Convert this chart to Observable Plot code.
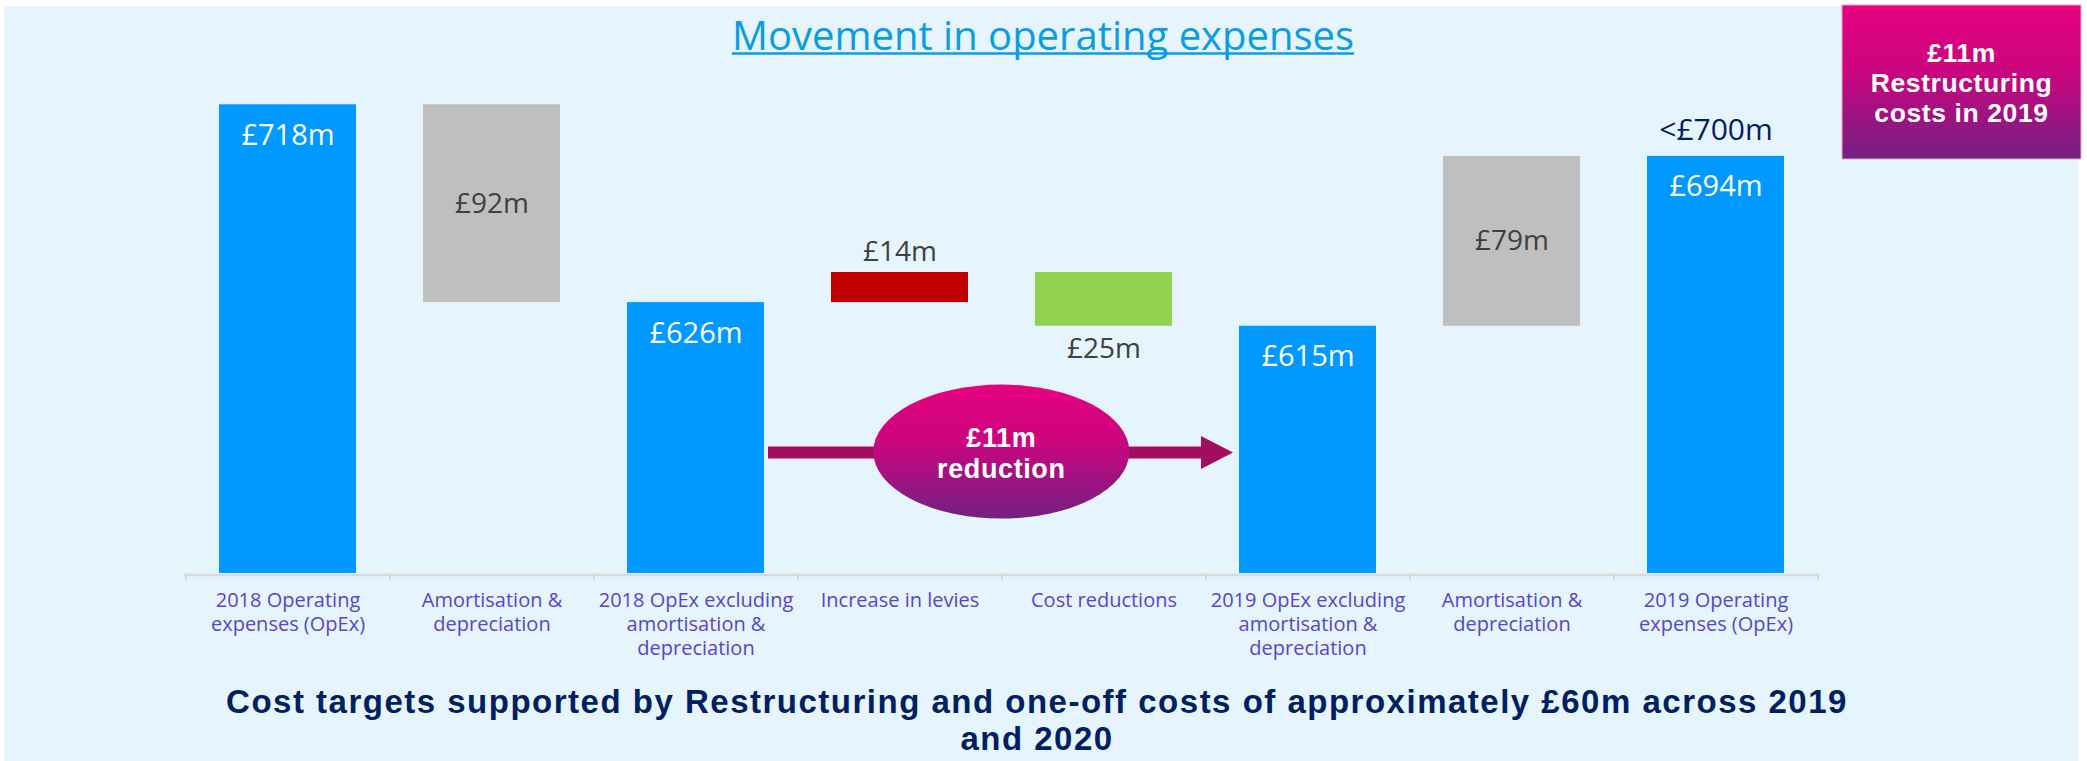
<!DOCTYPE html>
<html>
<head>
<meta charset="utf-8">
<script src="https://cdn.jsdelivr.net/npm/d3@7"></script>
<script src="https://cdn.jsdelivr.net/npm/@observablehq/plot@0.6"></script>
<style>
  body { margin: 0; background: #ffffff; }
  #wrap { position: relative; width: 2087px; height: 761px; overflow: hidden; font-family: "Open Sans", "Noto Sans", sans-serif; }
  #panel { position: absolute; left: 4px; top: 6px; width: 2074px; height: 755px; background: #e6f4fd; }
  #chart { position: absolute; left: 0; top: 0; }
</style>
</head>
<body>
<div id="wrap"><div id="panel"></div><div id="chart"></div></div>
<script>
// ---- data ----
const categories = ["opex2018", "amort2018", "excl2018", "levies", "costred", "excl2019", "amort2019", "opex2019"];
const tickLabels = [
  "2018 Operating\nexpenses (OpEx)",
  "Amortisation &\ndepreciation",
  "2018 OpEx excluding\namortisation &\ndepreciation",
  "Increase in levies",
  "Cost reductions",
  "2019 OpEx excluding\namortisation &\ndepreciation",
  "Amortisation &\ndepreciation",
  "2019 Operating\nexpenses (OpEx)"
];
const kinds = ["total", "step", "total", "step", "step", "total", "step", "total"];
const amounts = [718, -92, 626, 14, -25, 615, 79, 694];
const barLabels = ["£718m", "£92m", "£626m", "£14m", "£25m", "£615m", "£79m", "£694m"];
const barColors = ["#0099ff", "#bfbfbf", "#0099ff", "#c00000", "#92d050", "#0099ff", "#bfbfbf", "#0099ff"];
const axisFloor = 500;
const axisCeil = 720;
const targetLabel = "<£700m";
const arrowLevel = 556;
const titleText = "Movement in operating expenses";
const reductionText = ["£11m", "reduction"];
const restructuringText = ["£11m", "Restructuring", "costs in 2019"];
const footnoteLines = ["Cost targets supported by Restructuring and one-off costs of approximately £60m across 2019", "and 2020"];

// ---- build waterfall rows ----
let running = 0;
const rows = categories.map((cat, i) => {
  let lo, hi;
  if (kinds[i] === "total") {
    running = amounts[i];
    lo = axisFloor; hi = running;
  } else {
    const start = running;
    running += amounts[i];
    lo = Math.min(start, running); hi = Math.max(start, running);
  }
  let pos;
  if (kinds[i] === "total") pos = "inside";
  else if (Math.abs(amounts[i]) > 50) pos = "middle";
  else if (amounts[i] > 0) pos = "above";
  else pos = "below";
  return {cat, lo, hi, label: barLabels[i], color: barColors[i], pos};
});

const W = 2087, H = 761;
const mL = 184, mR = 268, mT = 100, mB = 188;
const padInner = 0.33, padOuter = 0.165;
const xStep = (W - mL - mR) / (categories.length - padInner + 2 * padOuter);
const font = "'Open Sans', 'Noto Sans', sans-serif";
const boldFont = "'Liberation Sans', Arial, sans-serif";

const plot = Plot.plot({
  width: W, height: H,
  marginLeft: mL, marginRight: mR, marginTop: mT, marginBottom: mB,
  style: {background: "transparent", fontFamily: font},
  x: {domain: categories, paddingInner: padInner, paddingOuter: padOuter, label: null},
  y: {domain: [axisFloor, axisCeil], axis: null},
  color: {type: "identity"},
  marks: [
    Plot.ruleY([axisFloor], {stroke: "#d9d9d9", strokeWidth: 2.5, dy: 1.5}),
    Plot.ruleX(categories, {x: d => d, y1: axisFloor, y2: axisFloor, insetBottom: -7, dx: -xStep / 2, stroke: "#d9d9d9", strokeWidth: 2}),
    Plot.ruleX(categories.slice(-1), {x: d => d, y1: axisFloor, y2: axisFloor, insetBottom: -7, dx: xStep / 2, stroke: "#d9d9d9", strokeWidth: 2}),
    Plot.barY(rows, {x: "cat", y1: "lo", y2: "hi", fill: "color"}),
    Plot.text(rows.filter(d => d.pos === "inside"), {x: "cat", y: "hi", text: "label", fill: "#ffffff", fontSize: 29, lineAnchor: "bottom", dy: 40}),
    Plot.text(rows.filter(d => d.pos === "middle"), {x: "cat", y: d => (d.lo + d.hi) / 2, text: "label", fill: "#404040", fontSize: 28, lineAnchor: "middle"}),
    Plot.text(rows.filter(d => d.pos === "above"), {x: "cat", y: "hi", text: "label", fill: "#404040", fontSize: 28, lineAnchor: "bottom", dy: -12}),
    Plot.text(rows.filter(d => d.pos === "below"), {x: "cat", y: "lo", text: "label", fill: "#404040", fontSize: 28, lineAnchor: "bottom", dy: 32}),
    Plot.text(rows.filter(d => d.cat === "opex2019"), {x: "cat", y: "hi", text: () => targetLabel, fill: "#002060", fontSize: 30, lineAnchor: "bottom", dy: -16}),
    Plot.axisX({
      tickSize: 0, tickPadding: 16, fontSize: 20, lineHeight: 1.2,
      fill: "#5b44c8", tickFormat: d => tickLabels[categories.indexOf(d)]
    })
  ]
});

document.getElementById("chart").appendChild(plot);

// ---- annotations positioned with the plot's scales ----
const sx = plot.scale("x"), sy = plot.scale("y");
const svg = d3.select(plot);
const defs = svg.append("defs");
function grad(id) {
  const g = defs.append("linearGradient").attr("id", id).attr("x1", 0).attr("y1", 0).attr("x2", 0).attr("y2", 1);
  g.append("stop").attr("offset", "0%").attr("stop-color", "#e6007e");
  g.append("stop").attr("offset", "45%").attr("stop-color", "#c8067f");
  g.append("stop").attr("offset", "100%").attr("stop-color", "#722182");
}
grad("gEll"); grad("gBox");

function multiline(parent, lines, x, y0, step, size, fill, spacing) {
  const t = parent.append("text").attr("x", x).attr("y", y0).attr("text-anchor", "middle")
    .attr("font-family", boldFont).attr("font-weight", 700).attr("font-size", size)
    .attr("letter-spacing", spacing).attr("fill", fill);
  lines.forEach((s, i) => {
    t.append("tspan").attr("x", x).attr("dy", i === 0 ? 0 : step).text(s);
  });
  return t;
}

const ann = svg.append("g");
const ay = sy.apply(arrowLevel);
const shaftStart = sx.apply("excl2018") + sx.bandwidth + 4;
const tip = sx.apply("excl2019") - 6;
const headLen = 32, headHalf = 16.5, shaftHalf = 6;
ann.append("path")
  .attr("d", `M${shaftStart},${ay - shaftHalf}L${tip - headLen},${ay - shaftHalf}L${tip - headLen},${ay - headHalf}L${tip},${ay}L${tip - headLen},${ay + headHalf}L${tip - headLen},${ay + shaftHalf}L${shaftStart},${ay + shaftHalf}Z`)
  .attr("fill", "#a30d5d");

const ecx = sx.apply("costred") - (xStep - sx.bandwidth) / 2;
ann.append("ellipse").attr("cx", ecx).attr("cy", ay - 1).attr("rx", 128).attr("ry", 67).attr("fill", "url(#gEll)");
multiline(ann, reductionText, ecx, ay - 6, 31, 27, "#ffffff", 0.6);

// pink box
ann.append("rect").attr("x", 1842).attr("y", 5).attr("width", 239).attr("height", 154)
  .attr("fill", "url(#gBox)").attr("stroke", "#e9a6d3").attr("stroke-width", 1);
multiline(ann, restructuringText, 1961.5, 62, 30, 26.5, "#ffffff", 0.6);

// title
const tt = ann.append("text").attr("x", 1043).attr("y", 50).attr("text-anchor", "middle")
  .attr("font-family", font).attr("font-weight", 500).attr("font-size", 40).attr("fill", "#0a9ee0").text(titleText);
const tb = tt.node().getBBox();
ann.append("line").attr("x1", tb.x).attr("x2", tb.x + tb.width).attr("y1", 53.5).attr("y2", 53.5)
  .attr("stroke", "#0a9ee0").attr("stroke-width", 2.5);

// footnote
multiline(ann, footnoteLines, 1037, 713, 37, 33, "#002060", 1.5);
</script>
</body>
</html>
